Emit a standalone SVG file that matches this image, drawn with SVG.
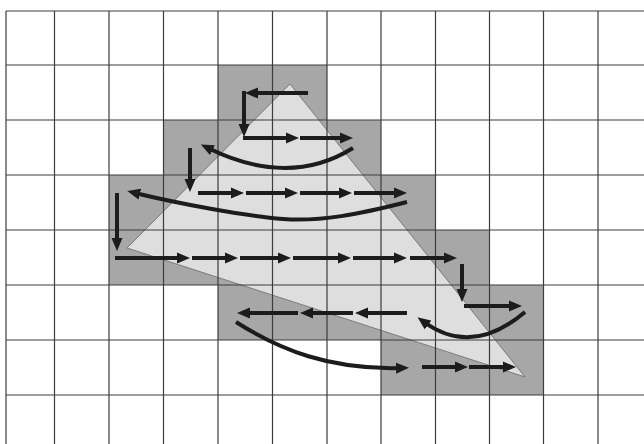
<svg xmlns="http://www.w3.org/2000/svg" width="644" height="444" viewBox="0 0 644 444">
  <style>
    .cell { fill: #a7a7a7; }
    .grid { stroke: #3c3c3c; stroke-width: 1.2; fill: none; }
    .arr { stroke: #1c1c1c; stroke-width: 4; fill: none; marker-end: url(#ah); }
  </style>
  <defs>
    <marker id="ah" markerUnits="userSpaceOnUse" markerWidth="14" markerHeight="12" refX="5" refY="5.5" orient="auto" viewBox="0 0 14 11">
      <path d="M0,0 L13,5.5 L0,11 z" fill="#1c1c1c"/>
    </marker>
  </defs>
  <rect width="644" height="444" fill="#ffffff"/>
  <g id="shaded">
    <rect class="cell" x="218" y="65" width="109" height="55"/>
    <rect class="cell" x="163.5" y="120" width="217.5" height="55"/>
    <rect class="cell" x="109" y="175" width="326.5" height="55"/>
    <rect class="cell" x="109" y="230" width="380.5" height="55"/>
    <rect class="cell" x="218" y="285" width="325.5" height="55"/>
    <rect class="cell" x="381" y="340" width="162.5" height="55"/>
  </g>
  <g id="triangle">
    <polygon points="290,84 525,377 127,248" fill="#dedede" stroke="#7a7a7a" stroke-width="1"/>
  </g>
  <g id="grid" class="grid">
    <path d="M6,11 H644 M6,65 H644 M6,120 H644 M6,175 H644 M6,230 H644 M6,285 H644 M6,340 H644 M6,395 H644"/>
    <path d="M6,11 V444 M54.5,11 V444 M109,11 V444 M163.5,11 V444 M218,11 V444 M272.5,11 V444 M327,11 V444 M381,11 V444 M435.5,11 V444 M489.5,11 V444 M543.5,11 V444 M598,11 V444"/>
  </g>
  <g id="connectors">
    <path class="arr" d="M308,93 H253"/>
    <path class="arr" d="M244,91 V129"/>
    <path class="arr" d="M243,138 H291"/>
    <path class="arr" d="M300,138 H345"/>
    <path class="arr" d="M353,148 Q289,188 208,148"/>
    <path class="arr" d="M190,148 V184"/>
    <path class="arr" d="M198,193 H236"/>
    <path class="arr" d="M246,193 H290"/>
    <path class="arr" d="M300,193 H344"/>
    <path class="arr" d="M354,193 H399"/>
    <path class="arr" d="M407,202 C360,214 320,222 283,219 C246,216 180,204 135,193"/>
    <path class="arr" d="M117,193 V243"/>
    <path class="arr" d="M115,258 H182"/>
    <path class="arr" d="M192,258 H230"/>
    <path class="arr" d="M240,258 H283"/>
    <path class="arr" d="M293,258 H343"/>
    <path class="arr" d="M353,258 H399"/>
    <path class="arr" d="M410,258 H449"/>
    <path class="arr" d="M462,264 V294"/>
    <path class="arr" d="M464,306 H514"/>
    <path class="arr" d="M525,312 Q472,357 424,322"/>
    <path class="arr" d="M407,313 H363"/>
    <path class="arr" d="M353,313 H308"/>
    <path class="arr" d="M298,313 H245"/>
    <path class="arr" d="M236,322 C280,350 330,370 401,368"/>
    <path class="arr" d="M422,367 H460"/>
    <path class="arr" d="M469,367 H508"/>
  </g>
</svg>
